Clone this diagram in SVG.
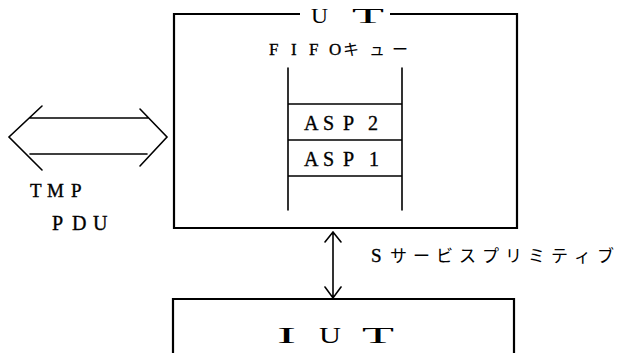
<svg xmlns="http://www.w3.org/2000/svg" width="618" height="353" viewBox="0 0 618 353">
<style>
.box{fill:none;stroke:#000;stroke-width:2.2}
.ln{fill:none;stroke:#000;stroke-width:1.6;stroke-linecap:round;stroke-linejoin:miter}
.ser{font-family:"Liberation Serif","DejaVu Serif",serif;fill:#000}
.lat{font-family:"Liberation Serif","DejaVu Serif",serif;fill:#000;stroke:#000;stroke-width:0.35}
.jp{font-family:"Noto Sans CJK JP",sans-serif;fill:#000}
</style>
<rect width="618" height="353" fill="#fff"/>
<g id="UT">
<path class="box" d="M300,14 H174 V228 H517 V14 H390"/>
<text class="ser" x="311" y="23" font-size="22" textLength="17" lengthAdjust="spacingAndGlyphs">U</text>
<text class="ser" x="352" y="23" font-size="22" textLength="32" lengthAdjust="spacingAndGlyphs">T</text>
<text class="lat" font-size="17" y="55" x="269 291 309 329">FIFO</text>
<text class="jp" font-size="16" y="55" x="343 369 392">キュー</text>
</g>
<g id="queue">
<path class="ln" d="M288,68 V210 M402,68 V210 M288,104 H402 M288,140 H402 M288,176 H402"/>
</g>
<g id="ASP2">
<text class="lat" font-size="20" x="304 323 343 368" y="130">ASP2</text>
</g>
<g id="ASP1">
<text class="lat" font-size="20" x="304 323 343 369" y="166">ASP1</text>
</g>
<g id="IUT">
<path class="box" d="M173,354 V299 H514 V354"/>
<text class="ser" x="277" y="343" font-size="24" textLength="19" lengthAdjust="spacingAndGlyphs">I</text>
<text class="ser" x="319" y="343" font-size="24" textLength="22" lengthAdjust="spacingAndGlyphs">U</text>
<text class="ser" x="362" y="343" font-size="24" textLength="32" lengthAdjust="spacingAndGlyphs">T</text>
</g>
<g id="connectors">
<path class="ln" d="M30,118 H148 M30,154 H147 M42,106 L9,137 L42,170 M140,109 L167,137 L140,166"/>
<path class="ln" d="M333,233 V297 M325,242 L333,232 L341,242 M325,287 L333,298 L341,287"/>
</g>
<g id="labels">
<text class="lat" font-size="19" x="30 47 71" y="197">TMP</text>
<text class="lat" font-size="20" x="52 72 93" y="230">PDU</text>
<text class="lat" font-size="19" x="371" y="262">S</text>
<text class="jp" font-size="17" y="262" x="390 413 436 459 482 505 528 551 574 597">サービスプリミティブ</text>
</g>
</svg>
